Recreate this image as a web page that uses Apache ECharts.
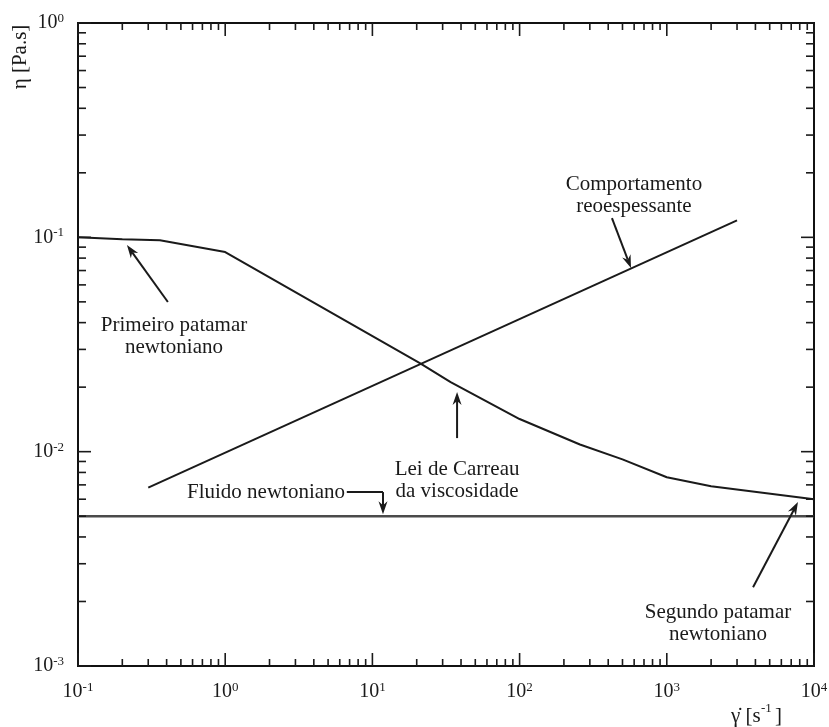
<!DOCTYPE html>
<html>
<head>
<meta charset="utf-8">
<script src="https://cdn.jsdelivr.net/npm/echarts@6/dist/echarts.min.js"></script>
<style>
  html, body { margin: 0; padding: 0; background: #fff; }
  #chart { width: 829px; height: 727px; }
</style>
</head>
<body>
<div id="chart"></div>
<script>
// Carreau viscosity law: shear rate (1/s) vs viscosity (Pa.s)
const carreauRate = [0.1, 0.2, 0.36, 1, 21, 34, 100, 257, 500, 1000, 2000, 10000];
const carreauVisc = [0.1, 0.098, 0.097, 0.0854, 0.0259, 0.0211, 0.0142, 0.0108, 0.0092, 0.0076, 0.0069, 0.006];

// Shear-thickening behaviour
const thickRate = [0.3, 3000];
const thickVisc = [0.0068, 0.12];

// Newtonian fluid
const newtonRate = [0.1, 10000];
const newtonVisc = [0.005, 0.005];

// Decade ticks and their exponent labels
const xTicks = [0.1, 1, 10, 100, 1000, 10000];
const xTickExp = ['-1', '0', '1', '2', '3', '4'];
const yTicks = [0.001, 0.01, 0.1, 1];
const yTickExp = ['-3', '-2', '-1', '0'];

// Annotations (data space): label text, label anchor, arrow tail, arrow head
const noteText = [
  'Primeiro patamar\nnewtoniano',
  'Lei de Carreau\nda viscosidade',
  'Comportamento\nreoespessante',
  'Segundo patamar\nnewtoniano'
];
const noteAt = [[0.449, 0.0346], [37.6, 0.0073], [598, 0.1575], [2228, 0.00158]];
const noteFrom = [[0.408, 0.0499], [37.6, 0.01157], [424, 0.123], [3855, 0.00233]];
const noteTo = [[0.215, 0.092], [37.6, 0.019], [571, 0.0719], [7780, 0.00582]];

// "Fluido newtoniano" label with an elbow leader
const fluidText = 'Fluido newtoniano';
const fluidAt = [6.52, 0.00648];
const fluidLeader = [[6.7, 0.00648], [11.8, 0.00648], [11.8, 0.0051]];

const FONT = 'Liberation Serif, Times New Roman, serif';
const INK = '#1a1a1a';

function pairs(xs, ys) { return xs.map((x, i) => [x, ys[i]]); }

function expLabel(ticks, exps) {
  return function (v) {
    let idx = -1;
    ticks.forEach((t, i) => { if (Math.abs(Math.log10(t) - Math.log10(v)) < 1e-6) idx = i; });
    if (idx < 0) return '';
    return '{b|10}{s|' + exps[idx] + '}';
  };
}

const labelRich = {
  b: { fontFamily: FONT, fontSize: 20, color: INK, lineHeight: 22 },
  s: { fontFamily: FONT, fontSize: 13, color: INK, lineHeight: 10, verticalAlign: 'top' }
};

function arrowParts(p0, p1) {
  const dx = p1[0] - p0[0], dy = p1[1] - p0[1];
  const L = Math.hypot(dx, dy) || 1;
  const ux = dx / L, uy = dy / L, nx = -uy, ny = ux;
  const hl = 13, hw = 4.5, notch = 9;
  const bx = p1[0] - ux * hl, by = p1[1] - uy * hl;
  const mx = p1[0] - ux * notch, my = p1[1] - uy * notch;
  return [
    { type: 'line', shape: { x1: p0[0], y1: p0[1], x2: mx, y2: my },
      style: { stroke: INK, lineWidth: 2 } },
    { type: 'polygon', shape: { points: [[p1[0], p1[1]], [bx + nx * hw, by + ny * hw], [mx, my], [bx - nx * hw, by - ny * hw]] },
      style: { fill: INK } }
  ];
}

// Log-decade minor/major ticks drawn inward on all four sides
function renderTicks(params, api) {
  const children = [];
  const xMin = xTicks[0], xMax = xTicks[xTicks.length - 1];
  const yMin = yTicks[0], yMax = yTicks[yTicks.length - 1];
  const bl = api.coord([xMin, yMin]);
  const tr = api.coord([xMax, yMax]);
  const seg = (x1, y1, x2, y2) => children.push({ type: 'line', shape: { x1, y1, x2, y2 }, style: { stroke: INK, lineWidth: 1.6 } });
  for (let i = 0; i < xTicks.length; i++) {
    const px = api.coord([xTicks[i], yMin])[0];
    seg(px, bl[1], px, bl[1] - 13);
    seg(px, tr[1], px, tr[1] + 13);
    if (i < xTicks.length - 1) {
      for (let m = 2; m <= 9; m++) {
        const q = api.coord([xTicks[i] * m, yMin])[0];
        seg(q, bl[1], q, bl[1] - 7);
        seg(q, tr[1], q, tr[1] + 7);
      }
    }
  }
  for (let i = 0; i < yTicks.length; i++) {
    const py = api.coord([xMin, yTicks[i]])[1];
    seg(bl[0], py, bl[0] + 13, py);
    seg(tr[0], py, tr[0] - 13, py);
    if (i < yTicks.length - 1) {
      for (let m = 2; m <= 9; m++) {
        const q = api.coord([xMin, yTicks[i] * m])[1];
        seg(bl[0], q, bl[0] + 8, q);
        seg(tr[0], q, tr[0] - 8, q);
      }
    }
  }
  return { type: 'group', children };
}

function renderNotes(params, api) {
  const children = [];
  const textStyle = (text, align) => ({
    text, fontFamily: FONT, fontSize: 21, fill: INK, align, verticalAlign: 'middle', lineHeight: 22
  });
  for (let i = 0; i < noteText.length; i++) {
    const p = api.coord(noteAt[i]);
    children.push({ type: 'text', x: p[0], y: p[1], style: textStyle(noteText[i], 'center') });
    children.push(...arrowParts(api.coord(noteFrom[i]), api.coord(noteTo[i])));
  }
  const f = api.coord(fluidAt);
  children.push({ type: 'text', x: f[0], y: f[1], style: textStyle(fluidText, 'right') });
  const a = api.coord(fluidLeader[0]), b = api.coord(fluidLeader[1]), c = api.coord(fluidLeader[2]);
  children.push({ type: 'line', shape: { x1: a[0], y1: a[1], x2: b[0], y2: b[1] }, style: { stroke: INK, lineWidth: 2 } });
  children.push(...arrowParts(b, c));
  return { type: 'group', children };
}

const chart = echarts.init(document.getElementById('chart'), null, { renderer: 'canvas' });

chart.setOption({
  backgroundColor: '#fff',
  animation: false,
  grid: {
    left: 78, right: 15, top: 23, bottom: 61,
    show: true, borderColor: '#111', borderWidth: 2, backgroundColor: 'transparent',
    containLabel: false, outerBoundsMode: 'none'
  },
  xAxis: {
    type: 'log', logBase: 10, min: xTicks[0], max: xTicks[xTicks.length - 1],
    axisLine: { show: false }, axisTick: { show: false }, splitLine: { show: false },
    minorTick: { show: false }, minorSplitLine: { show: false },
    axisLabel: { margin: 15, formatter: expLabel(xTicks, xTickExp), rich: labelRich, showMinLabel: true, showMaxLabel: true, hideOverlap: false }
  },
  yAxis: {
    type: 'log', logBase: 10, min: yTicks[0], max: yTicks[yTicks.length - 1],
    axisLine: { show: false }, axisTick: { show: false }, splitLine: { show: false },
    minorTick: { show: false }, minorSplitLine: { show: false },
    axisLabel: { margin: 14, formatter: expLabel(yTicks, yTickExp), rich: labelRich, showMinLabel: true, showMaxLabel: true, hideOverlap: false }
  },
  graphic: [
    {
      type: 'text', x: 20, y: 57, rotation: Math.PI / 2,
      style: { text: 'η [Pa.s]', fontFamily: FONT, fontSize: 21, fill: INK, align: 'center', verticalAlign: 'middle' }
    },
    {
      type: 'text', x: 731, y: 716,
      style: { text: 'γ̇ [s', fontFamily: FONT, fontSize: 21, fill: INK, align: 'left', verticalAlign: 'middle' }
    },
    {
      type: 'text', x: 761, y: 709,
      style: { text: '-1', fontFamily: FONT, fontSize: 13, fill: INK, align: 'left', verticalAlign: 'middle' }
    },
    {
      type: 'text', x: 775, y: 716,
      style: { text: ']', fontFamily: FONT, fontSize: 21, fill: INK, align: 'left', verticalAlign: 'middle' }
    }
  ],
  series: [
    {
      name: 'Fluido newtoniano', type: 'line', data: pairs(newtonRate, newtonVisc),
      showSymbol: false, symbol: 'none', lineStyle: { color: '#4a4a4a', width: 2.6 }, z: 2
    },
    {
      name: 'Reoespessante', type: 'line', data: pairs(thickRate, thickVisc),
      showSymbol: false, symbol: 'none', lineStyle: { color: INK, width: 2 }, z: 3
    },
    {
      name: 'Carreau', type: 'line', data: pairs(carreauRate, carreauVisc),
      showSymbol: false, symbol: 'none', lineStyle: { color: INK, width: 2 }, z: 3
    },
    {
      type: 'custom', coordinateSystem: 'cartesian2d', data: [[xTicks[0], yTicks[0]]],
      renderItem: renderTicks, silent: true, z: 5, clip: false
    },
    {
      type: 'custom', coordinateSystem: 'cartesian2d', data: [[xTicks[0], yTicks[0]]],
      renderItem: renderNotes, silent: true, z: 6, clip: false
    }
  ]
});
</script>
</body>
</html>
